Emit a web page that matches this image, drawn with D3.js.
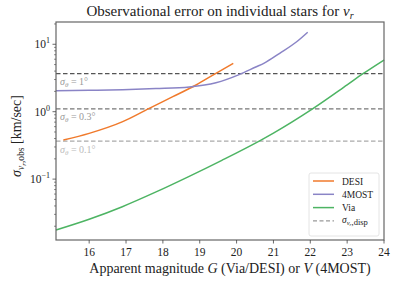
<!DOCTYPE html>
<html><head><meta charset="utf-8">
<script src="https://cdn.jsdelivr.net/npm/d3@7"></script>
<style>
body{margin:0;background:#fff;}
svg text{font-family:"Liberation Serif","DejaVu Serif",serif;}
</style></head>
<body><svg id="c" width="397" height="284"></svg>
<script>
const desiMag = [15.3, 16.0, 16.91, 17.63, 18.27, 18.9, 19.44, 19.91];
const desiErr = [0.38, 0.477, 0.711, 1.12, 1.67, 2.49, 3.71, 5.22];
const fourMag = [15.1, 16.0, 16.91, 17.81, 18.72, 19.44, 20.07, 20.52, 20.75, 21.17, 21.63, 21.93];
const fourErr = [2.05, 2.08, 2.12, 2.2, 2.33, 2.69, 3.55, 4.6, 5.25, 7.35, 10.9, 15.1];
const viaMag = [15.1, 16.0, 16.9, 17.8, 18.7, 19.6, 20.65, 21.0, 22.06, 23.0, 23.43, 24.0];
const viaErr = [0.0176, 0.0254, 0.039, 0.064, 0.109, 0.19, 0.376, 0.481, 1.1, 2.5, 3.66, 5.85];
const dispVals = [3.66, 1.1, 0.366];
const dispLabels = ["1°", "0.3°", "0.1°"];
const xTicks = [16, 17, 18, 19, 20, 21, 22, 23, 24];
const yTicks = [0.1, 1, 10];
const yTickExp = ["−1", "0", "1"];
const legendNames = ["DESI", "4MOST", "Via"];

const svg = d3.select("#c");
const L = 56, R = 384, T = 22, B = 240;
const x = d3.scaleLinear().domain([15.1, 24]).range([L, R]);
const y = d3.scaleLog().domain([0.0125, 21.4]).range([B, T]);
const colors = {DESI: "#f07a2c", "4MOST": "#8a84c6", Via: "#4db463"};
const dispColors = ["#555", "#777", "#aaa"];
const dispTextColors = ["#999", "#999", "#bbb"];

// dashed lines
dispVals.forEach((v, i) => {
  svg.append("line").attr("x1", L).attr("x2", R).attr("y1", y(v)).attr("y2", y(v))
    .attr("stroke", dispColors[i]).attr("stroke-width", 1.3).attr("stroke-dasharray", "4.5,2.5");
  const t = svg.append("text").attr("x", L + 4).attr("y", y(v) + 11.5)
    .attr("font-size", 10).attr("fill", dispTextColors[i]);
  t.append("tspan").attr("font-style", "italic").text("σ");
  t.append("tspan").attr("font-style", "italic").attr("font-size", 7).attr("dy", 2).text("θ");
  t.append("tspan").attr("dy", -2).text(" = " + dispLabels[i]);
});

const line = d3.line().x(d => x(d[0])).y(d => y(d[1])).curve(d3.curveMonotoneX);
const series = [
  ["DESI", desiMag, desiErr],
  ["4MOST", fourMag, fourErr],
  ["Via", viaMag, viaErr]
];
series.forEach(([n, m, e]) => {
  svg.append("path").datum(m.map((v, i) => [v, e[i]])).attr("d", line)
    .attr("fill", "none").attr("stroke", colors[n]).attr("stroke-width", 1.5);
});

// frame
svg.append("rect").attr("x", L).attr("y", T).attr("width", R - L).attr("height", B - T)
  .attr("fill", "none").attr("stroke", "#666").attr("stroke-width", 1.2);

// x ticks
xTicks.forEach(t => {
  svg.append("line").attr("x1", x(t)).attr("x2", x(t)).attr("y1", B).attr("y2", B + 3.5).attr("stroke", "#444").attr("stroke-width", 0.8);
  svg.append("text").attr("x", x(t)).attr("y", B + 16).attr("text-anchor", "middle").attr("font-size", 11.5).attr("fill", "#222").text(t);
});
// y ticks major + minor
yTicks.forEach((t, i) => {
  svg.append("line").attr("x1", L - 3.5).attr("x2", L).attr("y1", y(t)).attr("y2", y(t)).attr("stroke", "#444").attr("stroke-width", 0.8);
  const tx = svg.append("text").attr("x", L - 6).attr("y", y(t) + 4).attr("text-anchor", "end").attr("font-size", 11.5).attr("fill", "#222");
  tx.append("tspan").text("10");
  tx.append("tspan").attr("font-size", 8).attr("dy", -5).text(yTickExp[i]);
});
[0.01, 0.1, 1, 10].forEach(dec => {
  for (let k = 2; k <= 9; k++) {
    const v = dec * k;
    if (v < y.domain()[0] || v > y.domain()[1]) continue;
    svg.append("line").attr("x1", L - 2).attr("x2", L).attr("y1", y(v)).attr("y2", y(v)).attr("stroke", "#444").attr("stroke-width", 0.6);
  }
});

// title
const title = svg.append("text").attr("x", (L + R) / 2).attr("y", 16).attr("text-anchor", "middle").attr("font-size", 15).attr("fill", "#222");
title.append("tspan").text("Observational error on individual stars for ");
title.append("tspan").attr("font-style", "italic").text("v");
title.append("tspan").attr("font-style", "italic").attr("font-size", 10).attr("dy", 2.5).text("r");

// x label
const xl = svg.append("text").attr("x", (L + R) / 2 + 10).attr("y", 273).attr("text-anchor", "middle").attr("font-size", 14).attr("fill", "#222");
xl.append("tspan").text("Apparent magnitude ");
xl.append("tspan").attr("font-style", "italic").text("G");
xl.append("tspan").text(" (Via/DESI) or ");
xl.append("tspan").attr("font-style", "italic").text("V");
xl.append("tspan").text(" (4MOST)");

// y label
const yl = svg.append("text").attr("transform", `translate(21,${(T + B) / 2 + 5}) rotate(-90)`).attr("text-anchor", "middle").attr("font-size", 14).attr("fill", "#222");
yl.append("tspan").attr("font-style", "italic").text("σ");
yl.append("tspan").attr("font-style", "italic").attr("font-size", 9.5).attr("dy", 3).text("v");
yl.append("tspan").attr("font-style", "italic").attr("font-size", 7).attr("dy", 1.5).text("r");
yl.append("tspan").attr("font-size", 9.5).attr("dy", -1.5).text(",obs");
yl.append("tspan").attr("dy", -3).text(" [km/sec]");

// legend
const lg = svg.append("g");
lg.append("rect").attr("x", 309).attr("y", 173).attr("width", 70).attr("height", 63).attr("rx", 2)
  .attr("fill", "#fff").attr("fill-opacity", 0.85).attr("stroke", "#ddd").attr("stroke-width", 0.8);
legendNames.forEach((n, i) => {
  const yy = 181 + i * 13.3;
  lg.append("line").attr("x1", 313).attr("x2", 334).attr("y1", yy).attr("y2", yy).attr("stroke", colors[n]).attr("stroke-width", 1.5);
  lg.append("text").attr("x", 342).attr("y", yy + 3.5).attr("font-size", 9.5).attr("fill", "#222").text(n);
});
{
  const yy = 181 + 3 * 13.3;
  lg.append("line").attr("x1", 313).attr("x2", 334).attr("y1", yy).attr("y2", yy).attr("stroke", "#999").attr("stroke-width", 1.3).attr("stroke-dasharray", "4,2.5");
  const t = lg.append("text").attr("x", 342).attr("y", yy + 2.5).attr("font-size", 9.5).attr("fill", "#222");
  t.append("tspan").attr("font-style", "italic").text("σ");
  t.append("tspan").attr("font-style", "italic").attr("font-size", 6.5).attr("dy", 2).text("v");
  t.append("tspan").attr("font-style", "italic").attr("font-size", 5).attr("dy", 1).text("r");
  t.append("tspan").attr("font-size", 8.5).attr("dy", -1).text(",disp");
}
</script></body></html>
